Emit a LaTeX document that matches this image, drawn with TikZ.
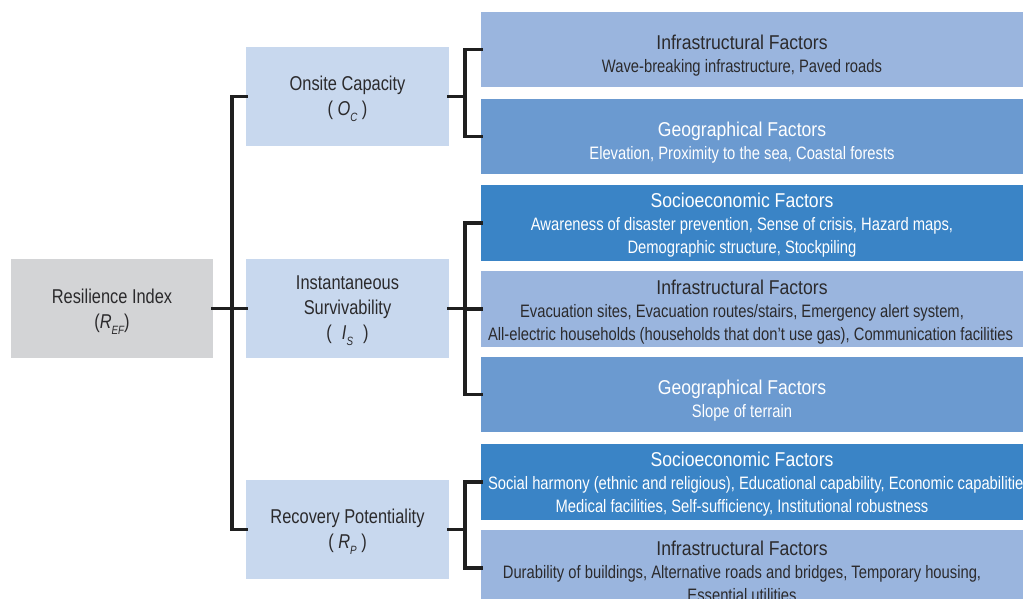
\documentclass[tikz,border=0pt]{standalone}
\usepackage{fontspec}
\setmainfont{Liberation Sans}[FakeStretch=0.82]
\newfontfamily\titlefont{Liberation Sans}[FakeStretch=0.88]
\definecolor{grayb}{HTML}{D3D4D6}
\definecolor{midb}{HTML}{C8D8EE}
\definecolor{lightb}{HTML}{9AB5DE}
\definecolor{medb}{HTML}{6B9AD0}
\definecolor{darkb}{HTML}{3A84C6}
\definecolor{txt}{HTML}{2B2A2C}
\newcommand\subv[2]{\textit{#1}\raisebox{-0.6ex}{\fontsize{12}{12}\selectfont\itshape #2}}
\newcommand\ttl[1]{{\titlefont\fontsize{20}{23}\selectfont #1}}
\newcommand\longln[1]{\makebox[508pt][l]{#1}}
\tikzset{
  basebox/.style={rectangle, inner sep=0pt, outer sep=0pt, draw=none},
  leftbox/.style={basebox, fill=grayb, minimum width=202pt, minimum height=99pt},
  midbox/.style={basebox, fill=midb, minimum width=203pt, minimum height=99pt},
  boxtxt/.style={inner sep=0pt, text=txt, align=center, font=\fontsize{20}{25}\selectfont},
  facbox/.style={basebox, minimum width=548pt, minimum height=75.5pt},
  lightbox/.style={facbox, fill=lightb},
  medbox/.style={facbox, fill=medb},
  darkbox/.style={facbox, fill=darkb},
  lbl/.style={inner sep=0pt, align=center, font=\fontsize{18}{23}\selectfont},
  darklbl/.style={lbl, text=txt},
  whitelbl/.style={lbl, text=white},
  conn/.style={draw=black!88, line width=3.5pt, line join=miter, line cap=rect}
}
\begin{document}
\begin{tikzpicture}[x=1pt, y=-1pt]
\useasboundingbox (0,0) rectangle (1023,599);
\fill[white] (0,0) rectangle (1023,599);

% left and middle boxes
\node[leftbox] (ri) at (112,308.5) {};
\node[midbox] (oc) at (347.5,96.5) {};
\node[midbox] (is) at (347.5,308.5) {};
\node[midbox] (rp) at (347.5,529.5) {};

% factor boxes
\node[lightbox] (i1) at (755,49.5) {};
\node[medbox]   (g1) at (755,136.5) {};
\node[darkbox]  (s2) at (755,222.75) {};
\node[lightbox] (i2) at (755,309) {};
\node[medbox]   (g2) at (755,394.5) {};
\node[darkbox]  (s3) at (755,481.75) {};
\node[lightbox] (i3) at (755,567.75) {};

% connectors
\draw[conn] (ri.east) -- ++(20,0);
\draw[conn] (oc.west) -- ++(-14,0) |- (rp.west);
\draw[conn] (is.west) -- ++(-14,0);

\draw[conn] (oc.east) -- ++(16,0);
\draw[conn] (i1.west) -- ++(-16,0) |- (g1.west);

\draw[conn] (is.east) -- ++(16,0);
\draw[conn] (s2.west) -- ++(-16,0) |- (g2.west);
\draw[conn] (i2.west) -- ++(-16,0);

\draw[conn] (rp.east) -- ++(16,0);
\draw[conn] (s3.west) -- ++(-16,0) |- (i3.west);

% texts of left and middle boxes
\node[boxtxt] (tri) at (112,312) {Resilience Index\\(\subv{R}{EF})};
\node[boxtxt] (toc) at (347.5,99) {Onsite Capacity\\( \subv{O}{C} )};
\node[boxtxt] (tis) at (347.5,311) {Instantaneous\\Survivability\\(\enspace\subv{I}{S}\enspace)};
\node[boxtxt] (trp) at (347.5,532) {Recovery Potentiality\\( \subv{R}{P} )};

% factor labels
\node[darklbl] (ti1) at (742,55.5) {\ttl{Infrastructural Factors}\\Wave-breaking infrastructure, Paved roads};
\node[whitelbl] (tg1) at (742,142.5) {\ttl{Geographical Factors}\\Elevation, Proximity to the sea, Coastal forests};
\node[whitelbl] (ts2) at (742,225.5) {\ttl{Socioeconomic Factors}\\Awareness of disaster prevention, Sense of crisis, Hazard maps,\\Demographic structure, Stockpiling};
\node[darklbl] (ti2) at (742,312) {\ttl{Infrastructural Factors}\\Evacuation sites, Evacuation routes/stairs, Emergency alert system,\\\longln{All-electric households (households that don’t use gas), Communication facilities}};
\node[whitelbl] (tg2) at (742,401) {\ttl{Geographical Factors}\\Slope of terrain};
\node[whitelbl] (ts3) at (742,484.5) {\ttl{Socioeconomic Factors}\\\longln{Social harmony (ethnic and religious), Educational capability, Economic capabilities,}\\Medical facilities, Self-sufficiency, Institutional robustness};
\node[darklbl] (ti3) at (742,571) {\ttl{Infrastructural Factors}\\Durability of buildings, Alternative roads and bridges, Temporary housing,\\Essential utilities};
\end{tikzpicture}
\end{document}
